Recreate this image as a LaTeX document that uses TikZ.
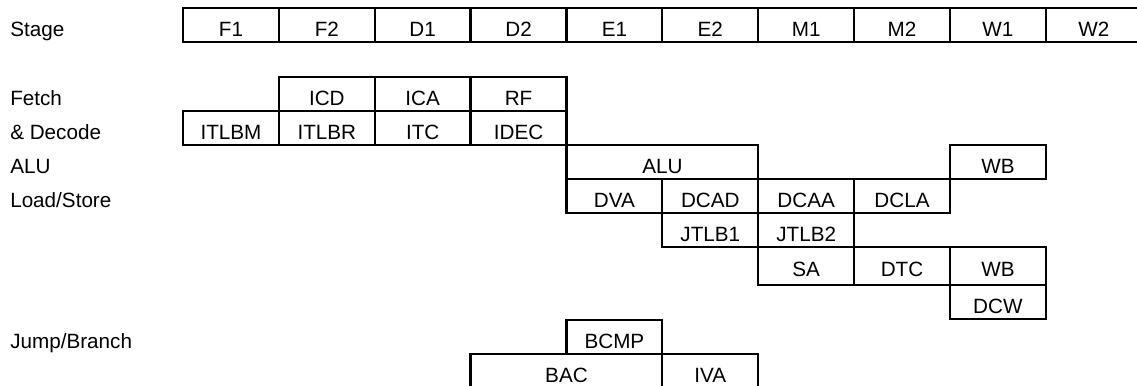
\documentclass[tikz,border=0pt]{standalone}
\usepackage{fontspec}
\setmainfont{Liberation Sans}
\usetikzlibrary{positioning}

\begin{document}
\begin{tikzpicture}[
    x=0.75pt,
    y=-0.75pt,
    font=\fontsize{15.5}{18}\selectfont,
    cell/.style={
        draw,
        rectangle,
        line width=1.7pt,
        minimum width=71.9pt,
        minimum height=25.5pt,
        inner sep=0pt,
        outer sep=0pt,
        text height=17.1pt,
        text depth=0pt
    },
    widecell/.style={
        cell,
        minimum width=143.8pt
    },
    tallcell/.style={
        cell,
        minimum height=28.5pt,
        text height=15pt
    },
    opencell/.style={
        cell,
        draw=none
    },
    rowlabel/.style={
        anchor=west,
        inner sep=0pt,
        text height=17.1pt,
        text depth=0pt
    }
]

\useasboundingbox (0,0) rectangle (1137,385);

%%%%%%%%%%%%%%%%%%%%%%%%%%%%%%%%%%%%%%%%%%%%%%%%%%%%
%% Stages
%%%%%%%%%%%%%%%%%%%%%%%%%%%%%%%%%%%%%%%%%%%%%%%%%%%%

\node[cell] (fone) at (230.95,25) {F1};
\node[cell,right=0pt of fone] (ftwo) {F2};
\node[cell,right=0pt of ftwo] (done) {D1};
\node[cell,right=0pt of done] (dtwo) {D2};
\node[cell,right=0pt of dtwo] (eone) {E1};
\node[cell,right=0pt of eone] (etwo) {E2};
\node[cell,right=0pt of etwo] (mone) {M1};
\node[cell,right=0pt of mone] (mtwo) {M2};
\node[cell,right=0pt of mtwo] (wone) {W1};
\node[cell,right=0pt of wone] (wtwo) {W2};

%%%%%%%%%%%%%%%%%%%%%%%%%%%%%%%%%%%%%%%%%%%%%%%%%%%%
%% Fetch & Decode
%%%%%%%%%%%%%%%%%%%%%%%%%%%%%%%%%%%%%%%%%%%%%%%%%%%%

\node[cell,below=26.25pt of ftwo] (icd) {ICD};
\node[cell,right=0pt of icd] (ica) {ICA};
\node[cell,right=0pt of ica] (rf) {RF};

\node[cell,below=0pt of icd] (itlbr) {ITLBR};
\node[cell,left=0pt of itlbr] (itlbm) {ITLBM};
\node[cell,right=0pt of itlbr] (itc) {ITC};
\node[cell,right=0pt of itc] (idec) {IDEC};

%%%%%%%%%%%%%%%%%%%%%%%%%%%%%%%%%%%%%%%%%%%%%%%%%%%%
%% ALU
%%%%%%%%%%%%%%%%%%%%%%%%%%%%%%%%%%%%%%%%%%%%%%%%%%%%

\node[widecell,below right=0pt of idec.south east] (alu) {ALU};

%%%%%%%%%%%%%%%%%%%%%%%%%%%%%%%%%%%%%%%%%%%%%%%%%%%%
%% Load/Store
%%%%%%%%%%%%%%%%%%%%%%%%%%%%%%%%%%%%%%%%%%%%%%%%%%%%

\node[cell,below right=0pt of alu.south west] (dva) {DVA};
\node[cell,right=0pt of dva] (dcad) {DCAD};
\node[cell,right=0pt of dcad] (dcaa) {DCAA};
\node[cell,right=0pt of dcaa] (dcla) {DCLA};

\node[cell,above right=0pt of dcla.north east] (wbalu) {WB};

\node[cell,below=0pt of dcad] (jtlbone) {JTLB1};
\node[cell,right=0pt of jtlbone] (jtlbtwo) {JTLB2};

\node[tallcell,below=0pt of jtlbtwo] (sa) {SA};
\node[tallcell,right=0pt of sa] (dtc) {DTC};
\node[tallcell,right=0pt of dtc] (wbls) {WB};

\node[cell,below=0pt of wbls] (dcw) {DCW};

%%%%%%%%%%%%%%%%%%%%%%%%%%%%%%%%%%%%%%%%%%%%%%%%%%%%
%% Jump/Branch
%%%%%%%%%%%%%%%%%%%%%%%%%%%%%%%%%%%%%%%%%%%%%%%%%%%%

\node[cell,below=80.25pt of dva] (bcmp) {BCMP};
\node[opencell,minimum width=143.8pt,below left=0pt of bcmp.south east] (bac) {BAC};
\node[opencell,right=0pt of bac] (iva) {IVA};

% open at the bottom edge
\draw[line width=1.7pt] (bac.south west) -- (bac.north west) -- (iva.north east) -- (iva.south east);
\draw[line width=1.7pt] (bac.north east) -- (bac.south east);

%%%%%%%%%%%%%%%%%%%%%%%%%%%%%%%%%%%%%%%%%%%%%%%%%%%%
%% Row labels
%%%%%%%%%%%%%%%%%%%%%%%%%%%%%%%%%%%%%%%%%%%%%%%%%%%%

\coordinate (lblx) at (10,0);

\node[rowlabel] (stagelbl) at (lblx |- fone) {Stage};
\node[rowlabel] (fetchlbl) at (lblx |- icd) {Fetch};
\node[rowlabel] (decodelbl) at (lblx |- itlbm) {\& Decode};
\node[rowlabel] (alulbl) at (lblx |- alu) {ALU};
\node[rowlabel] (lslbl) at (lblx |- dva) {Load/Store};
\node[rowlabel] (jblbl) at (lblx |- bcmp) {Jump/Branch};

\end{tikzpicture}
\end{document}
